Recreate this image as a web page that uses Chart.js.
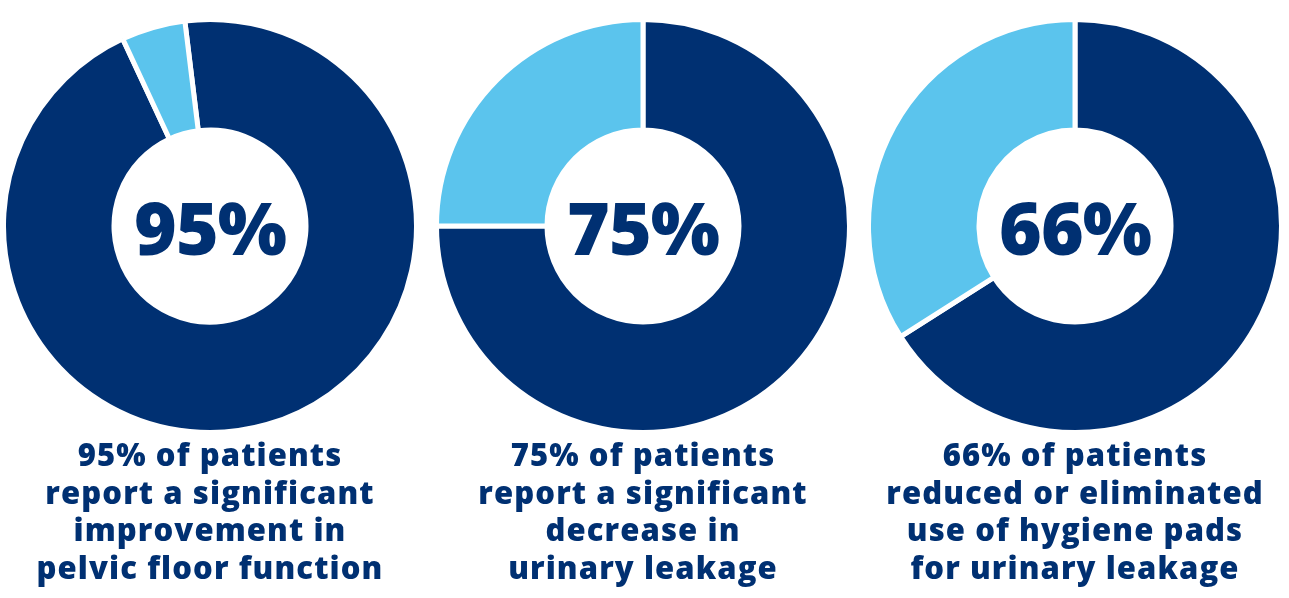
<!DOCTYPE html>
<html>
<head>
<meta charset="utf-8">
<title>Patient outcomes</title>
<script src="https://cdn.jsdelivr.net/npm/chart.js@4.4.1/dist/chart.umd.min.js"></script>
<style>
  html, body { margin: 0; padding: 0; background: #fff; width: 1289px; height: 598px; overflow: hidden; }
  body { position: relative; font-family: 'Open Sans', 'Noto Sans', sans-serif; color: #003072; }
  .ring { position: absolute; top: 17px; width: 418px; height: 418px; }
  .pct {
    position: absolute; inset: 0; display: flex; align-items: center; justify-content: center;
    font-weight: 800; font-size: 73px; letter-spacing: -1px; pointer-events: none;
  }
  .caption {
    position: absolute; top: 436px; width: 440px; text-align: center;
    font-weight: 800; font-size: 31px; line-height: 37.5px; letter-spacing: 1.1px;
  }
</style>
</head>
<body>
<div id="charts"></div>
<script>
'use strict';

// ── Data ───────────────────────────────────────────────────────────────────────
const shares     = [95, 75, 66];          // share of patients reporting the outcome
const remainders = [5, 25, 34];           // the rest, drawn in light blue
const centerText = ['95%', '75%', '66%'];
const captions = [
  ['95% of patients', 'report a significant', 'improvement in', 'pelvic floor function'],
  ['75% of patients', 'report a significant', 'decrease in', 'urinary leakage'],
  ['66% of patients', 'reduced or eliminated', 'use of hygiene pads', 'for urinary leakage'],
];

// ── Look ───────────────────────────────────────────────────────────────────────
const NAVY = '#003072';
const SKY = '#5bc4ed';
const centersX = [210, 643, 1075];
const rotations = [-7, 0, 0];

const wrap = document.getElementById('charts');

shares.forEach((val, i) => {
  const ring = document.createElement('div');
  ring.className = 'ring';
  ring.style.left = (centersX[i] - 209) + 'px';
  const canvas = document.createElement('canvas');
  ring.appendChild(canvas);
  const pct = document.createElement('div');
  pct.className = 'pct';
  pct.textContent = centerText[i];
  ring.appendChild(pct);
  wrap.appendChild(ring);

  const cap = document.createElement('div');
  cap.className = 'caption';
  cap.style.left = (centersX[i] - 220) + 'px';
  cap.innerHTML = captions[i].join('<br>');
  wrap.appendChild(cap);

  new Chart(canvas.getContext('2d'), {
    type: 'doughnut',
    data: {
      labels: ['Yes', 'No'],
      datasets: [{
        data: [val, remainders[i]],
        backgroundColor: [NAVY, SKY],
        borderColor: '#fff',
        borderWidth: 5,
      }],
    },
    options: {
      responsive: true,
      maintainAspectRatio: false,
      animation: false,
      rotation: rotations[i],
      cutout: 96,
      layout: { padding: 0 },
      plugins: { legend: { display: false }, tooltip: { enabled: false } },
    },
  });
});
</script>
</body>
</html>
